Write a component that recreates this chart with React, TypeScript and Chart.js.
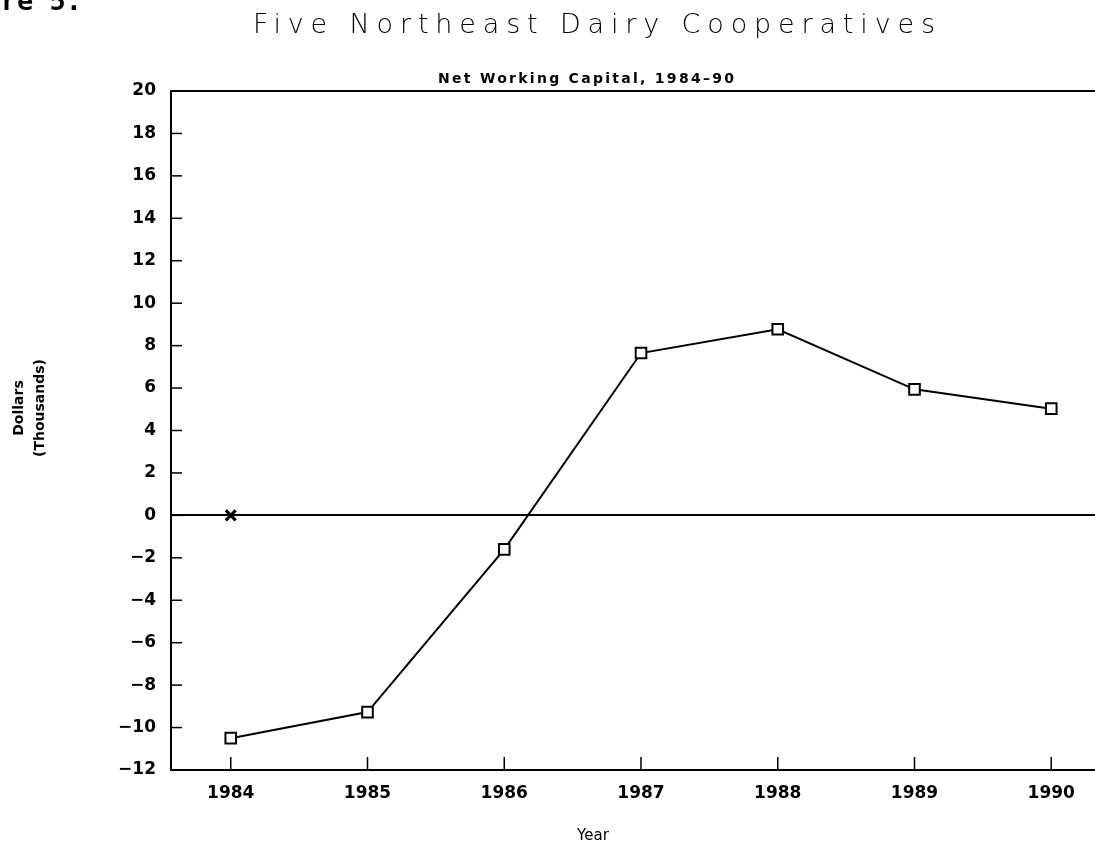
import React, { useEffect, useRef } from "react";
import { Chart, registerables } from "chart.js";

Chart.register(...registerables);

const YEARS = [1984, 1985, 1986, 1987, 1988, 1989, 1990];
const NET_WORKING_CAPITAL = [-10.5, -9.27, -1.6, 7.65, 8.77, 5.94, 5.03];
const MARKER_YEARS = [1984];
const MARKER_VALUES = [0];
const Y_TICKS = [-12, -10, -8, -6, -4, -2, 0, 2, 4, 6, 8, 10, 12, 14, 16, 18, 20];
const X_TICKS = YEARS;
const TITLE = "Five Northeast Dairy Cooperatives";
const SUBTITLE = "Net Working Capital, 1984\u201390";
const Y_TITLE = ["Dollars", "(Thousands)"];
const X_TITLE = "Year";
const FIGURE_LABEL = "Figure 5.";

const TICK_FONT = { family: "'DejaVu Sans', sans-serif", size: 17, weight: "bold" as const };

function fitText(ctx: CanvasRenderingContext2D, text: string, x: number, y: number, width: number, font: string) {
  ctx.font = font;
  (ctx as any).letterSpacing = "0px";
  const w = ctx.measureText(text).width;
  const ls = Math.max(0, (width - w) / (text.length - 1));
  (ctx as any).letterSpacing = ls + "px";
  ctx.textAlign = "left";
  ctx.textBaseline = "alphabetic";
  ctx.fillText(text, x, y);
  (ctx as any).letterSpacing = "0px";
}

const decorPlugin = {
  id: "decor",
  afterDraw(chart: any) {
    const ctx: CanvasRenderingContext2D = chart.ctx;
    const xs = chart.scales.x;
    const ys = chart.scales.y;
    ctx.save();
    ctx.fillStyle = "#000";
    ctx.strokeStyle = "#000";

    fitText(ctx, TITLE, 253, 33, 682, "200 27px 'DejaVu Sans', sans-serif");
    fitText(ctx, SUBTITLE, 438, 83, 296, "bold 14px 'DejaVu Sans', sans-serif");

    ctx.font = "15px 'DejaVu Sans', sans-serif";
    ctx.textAlign = "center";
    ctx.textBaseline = "alphabetic";
    ctx.fillText(X_TITLE, 593, 840);

    ctx.font = "bold 27px 'DejaVu Sans Mono', monospace";
    ctx.textAlign = "right";
    ctx.fillText(FIGURE_LABEL, 82, 10);

    // vertical axis title (two lines, rotated)
    ctx.save();
    ctx.font = "bold 14px 'DejaVu Sans', sans-serif";
    ctx.textAlign = "center";
    ctx.textBaseline = "middle";
    const cols = [19, 40];
    Y_TITLE.forEach((line, i) => {
      ctx.save();
      ctx.translate(cols[i], 408);
      ctx.rotate(-Math.PI / 2);
      ctx.fillText(line, 0, 0);
      ctx.restore();
    });
    ctx.restore();

    ctx.lineWidth = 1.5;
    ys.ticks.forEach((t: any) => {
      const py = ys.getPixelForValue(t.value);
      ctx.beginPath();
      ctx.moveTo(xs.left, py);
      ctx.lineTo(xs.left + 11, py);
      ctx.stroke();
    });
    xs.ticks.forEach((t: any) => {
      const px = xs.getPixelForValue(t.value);
      ctx.beginPath();
      ctx.moveTo(px, ys.bottom);
      ctx.lineTo(px, ys.bottom - 13);
      ctx.stroke();
    });
    ctx.restore();
  },
};

export default function App() {
  const ref = useRef<HTMLCanvasElement | null>(null);

  useEffect(() => {
    if (!ref.current) return;
    const chart = new Chart(ref.current, {
      type: "line",
      data: {
        datasets: [
          {
            label: "Net Working Capital",
            data: YEARS.map((yr, i) => ({ x: yr, y: NET_WORKING_CAPITAL[i] })),
            borderColor: "#000",
            borderWidth: 2,
            backgroundColor: "#fff",
            pointStyle: "rect",
            pointRadius: 7.5,
            pointBorderWidth: 2,
            pointBackgroundColor: "#fff",
            pointBorderColor: "#000",
            tension: 0,
          },
          {
            label: "Zero",
            data: MARKER_YEARS.map((yr, i) => ({ x: yr, y: MARKER_VALUES[i] })),
            showLine: false,
            pointStyle: "crossRot",
            pointRadius: 7,
            pointBorderWidth: 3,
            pointBorderColor: "#000",
            borderColor: "#000",
          },
        ],
      },
      options: {
        animation: false,
        responsive: false,
        devicePixelRatio: 1,
        layout: { autoPadding: false, padding: { top: 91, right: 0, left: 0, bottom: 0 } },
        plugins: {
          legend: { display: false },
          title: { display: false },
          tooltip: { enabled: false },
        },
        scales: {
          x: {
            type: "linear",
            min: 1983.563,
            max: 1990.32,
            afterBuildTicks: (s: any) => {
              s.ticks = X_TICKS.map((v) => ({ value: v }));
            },
            afterFit: (s: any) => {
              s.height = 75;
              s.paddingLeft = 0;
              s.paddingRight = 0;
            },
            ticks: {
              color: "#000",
              font: TICK_FONT,
              padding: 13,
              maxRotation: 0,
              autoSkip: false,
              callback: (v: any) => String(v),
            },
            grid: { drawOnChartArea: false, drawTicks: false },
            border: { display: true, color: "#000", width: 2 },
          },
          y: {
            type: "linear",
            min: -12,
            max: 20,
            afterBuildTicks: (s: any) => {
              s.ticks = Y_TICKS.map((v) => ({ value: v }));
            },
            afterFit: (s: any) => {
              s.width = 171;
              s.paddingTop = 0;
              s.paddingBottom = 0;
            },
            ticks: {
              color: "#000",
              font: TICK_FONT,
              padding: 15,
              autoSkip: false,
              callback: (v: any) => (v < 0 ? "\u2212" + Math.abs(v) : String(v)),
            },
            grid: {
              drawTicks: false,
              color: (c: any) => (c.tick && (c.tick.value === 0 || c.tick.value === 20) ? "#000" : "rgba(0,0,0,0)"),
              lineWidth: 2,
            },
            border: { display: true, color: "#000", width: 2 },
          },
        },
      },
      plugins: [decorPlugin],
    });
    return () => chart.destroy();
  }, []);

  return (
    <div style={{ position: "absolute", left: 0, top: 0, width: 1095, height: 845, background: "#fff" }}>
      <canvas ref={ref} width={1095} height={845} />
    </div>
  );
}
